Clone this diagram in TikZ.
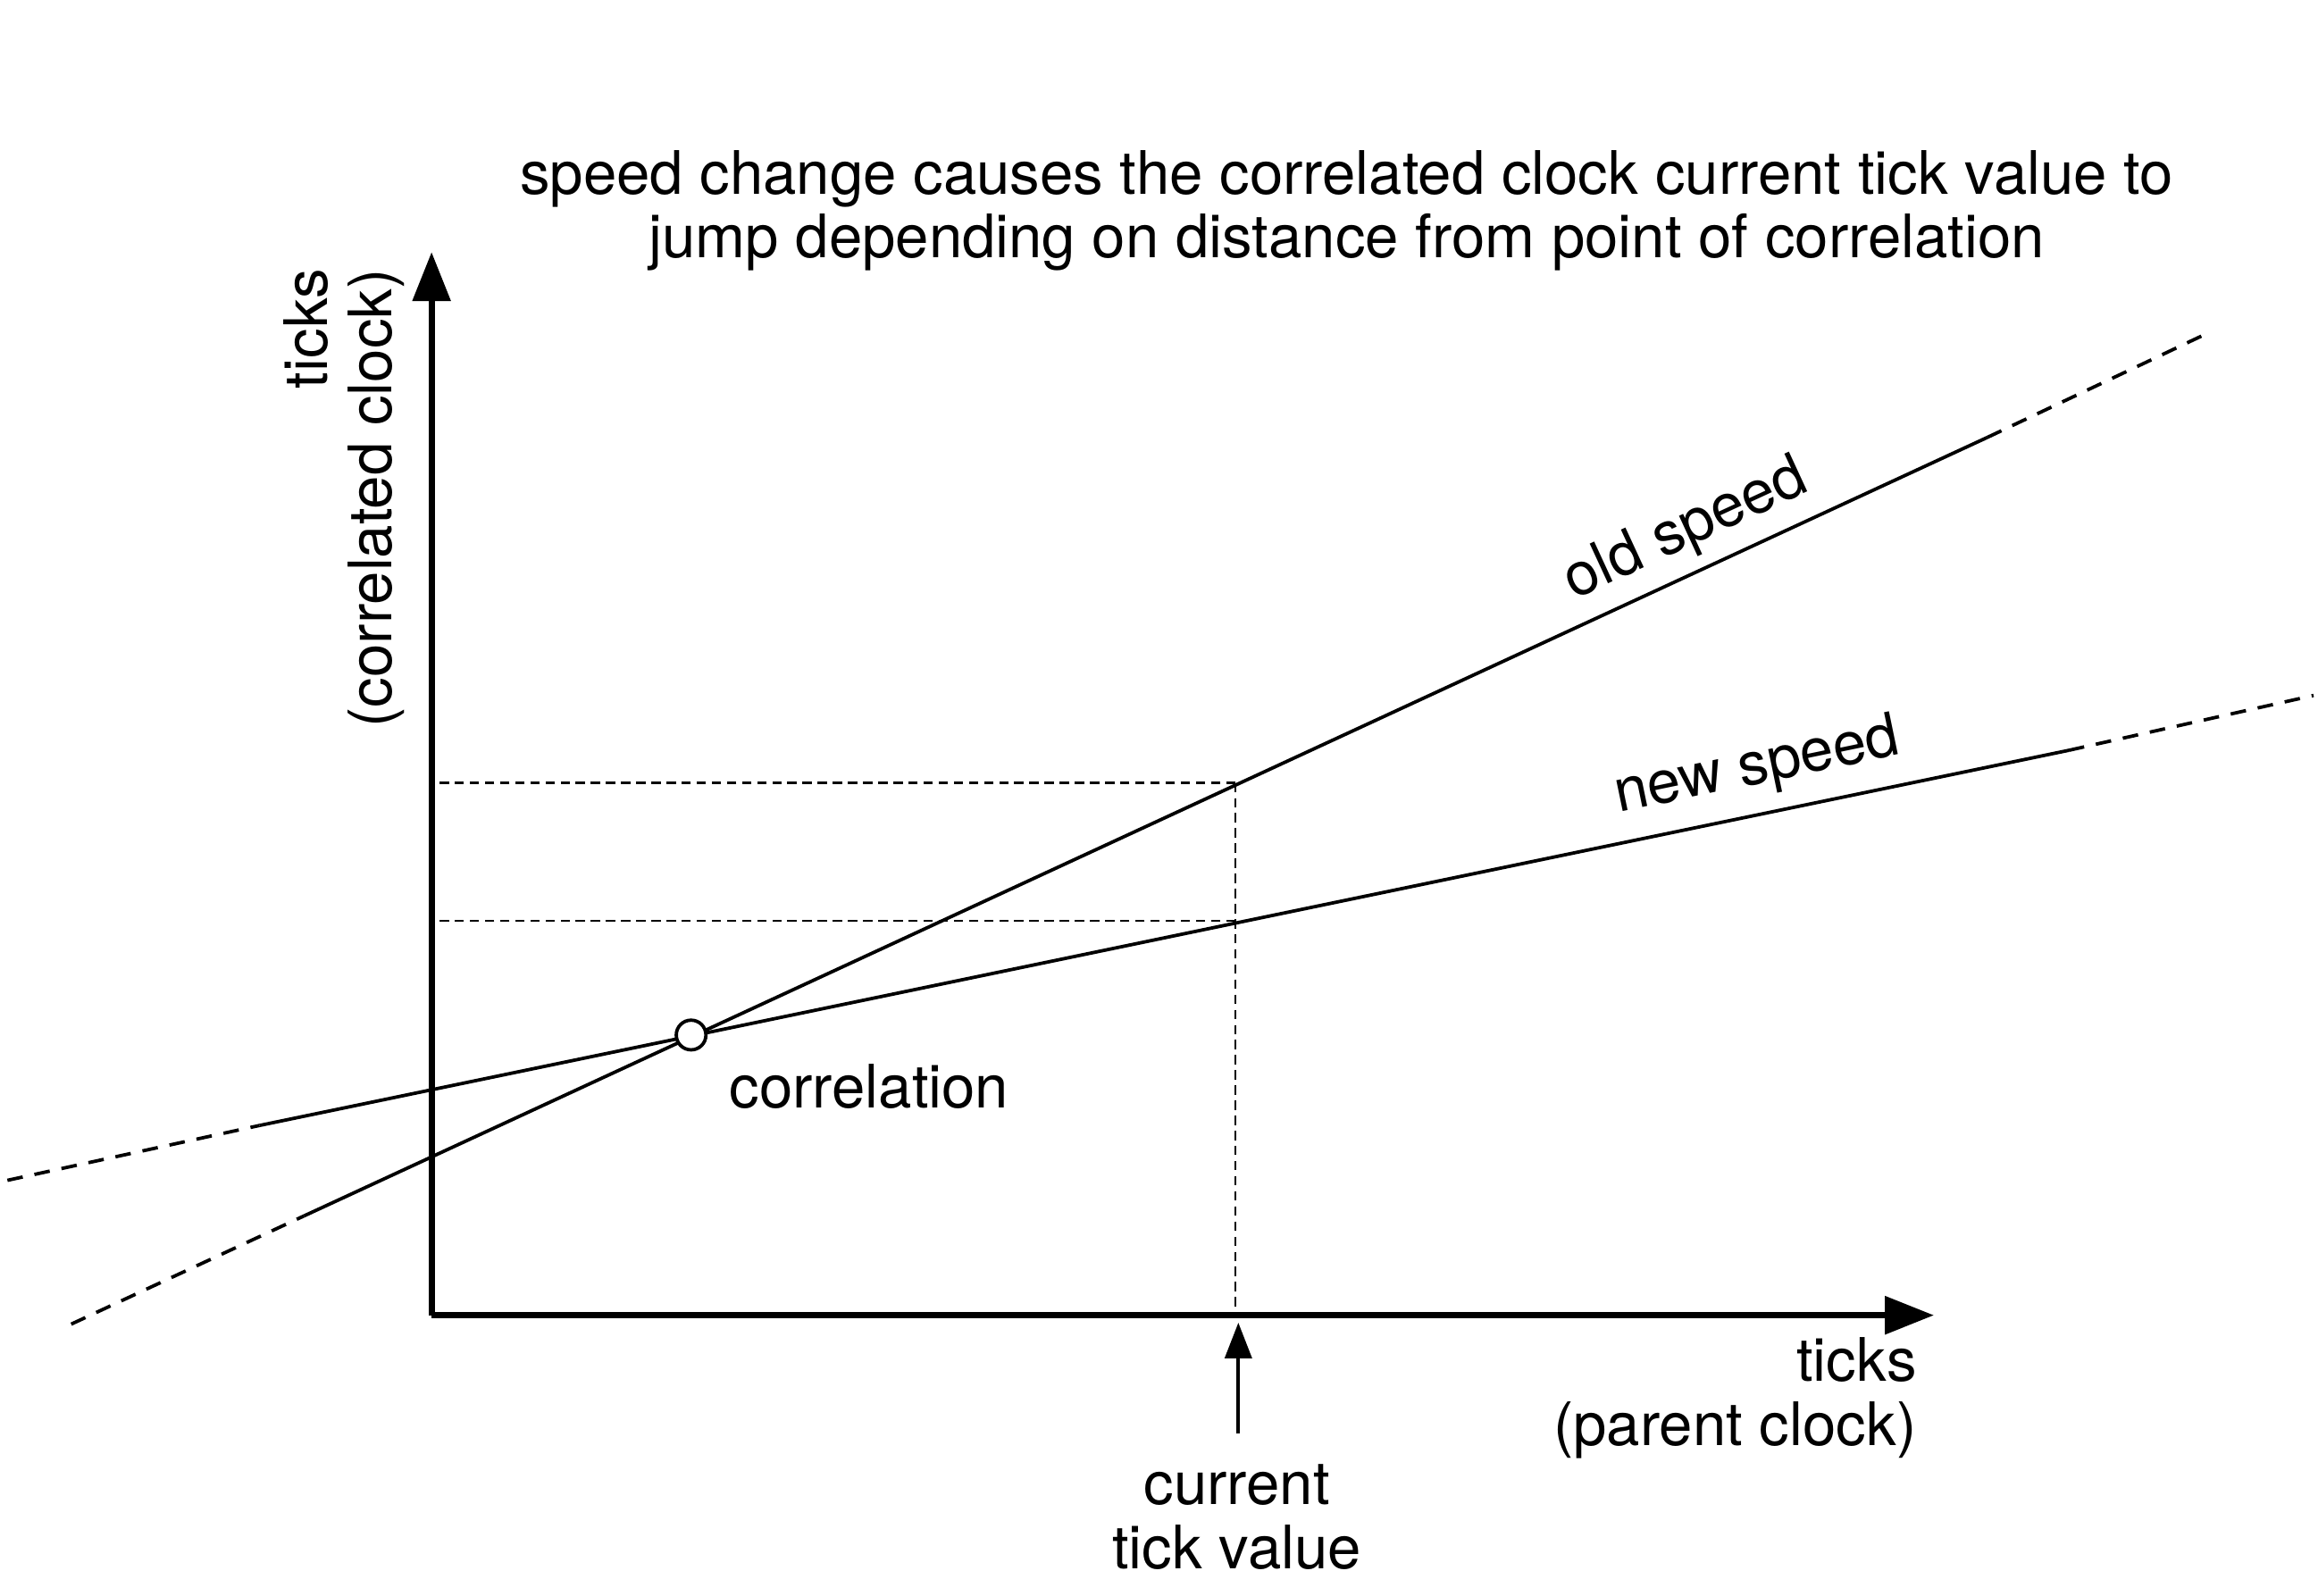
\documentclass[tikz,border=0pt]{standalone}
\usepackage{fontspec}
\setmainfont{TeX Gyre Heros}
\usepackage{tikz}
\usetikzlibrary{arrows.meta}

\begin{document}
\begin{tikzpicture}[x=0.01cm,y=-0.01cm]
						\tikzset{font=\fontsize{11.5}{12.3}\selectfont}
						
						\tikzset{axis/.style = {line width=1.2pt,-{Triangle[length=3.3mm,width=2.5mm]}}}
						
						\tikzset{speed/.style = {line width=0.65pt}}
						
						\tikzset{ext/.style = {line width=0.65pt,dash pattern=on 3pt off 2.3pt}}
						
						\tikzset{guide/.style = {line width=0.5pt,dash pattern=on 1.8pt off 1.1pt}}
						
						\tikzset{lbl/.style = {inner sep=0pt,align=center}}
						
						\useasboundingbox (0,0) rectangle (1563,1076);
						
						% points
						
						\coordinate (o) at (291,887);
						
						\coordinate (ytip) at (291,170);
						
						\coordinate (xtip) at (1304,887);
						
						\coordinate (old0) at (48,893);
						
						\coordinate (old1) at (205,820);
						
						\coordinate (old2) at (1340,295);
						
						\coordinate (old3) at (1490,224);
						
						\coordinate (new0) at (5,796);
						
						\coordinate (new1) at (175,759);
						
						\coordinate (new2) at (1395,506);
						
						\coordinate (new3) at (1560,469);
						
						\coordinate (oldnow) at (833,528);
						
						\coordinate (newnow) at (833,621);
						
						\coordinate (cur) at (835,967);
						
						% axes
						
						\draw[axis] (o) -- (ytip);
						
						\draw[axis] (o) -- (xtip);
						
						% guides
						
						\draw[guide] (oldnow) -- (oldnow -| o);
						
						\draw[guide] (newnow) -- (newnow -| o);
						
						\draw[guide] (oldnow) -- (oldnow |- o);
						
						% speeds
						
						\draw[ext] (old0) -- (old1);
						
						\draw[speed] (old1) -- (old2);
						
						\draw[ext] (old2) -- (old3);
						
						\draw[ext] (new0) -- (new1);
						
						\draw[speed] (new1) -- (new2);
						
						\draw[ext] (new2) -- (new3);
						
						\node[circle,draw,fill=white,line width=0.65pt,minimum size=0.2cm,inner sep=0pt] (c) at (466,698) {};
						
						\draw[speed,-{Triangle[length=2.4mm,width=1.8mm]}] (cur) -- (cur |- 892,892);
						
						% labels
						
						\node[lbl] (title) at (908,142) {speed change causes the correlated clock current tick value to\\jump depending on distance from point of correlation};
						
						\node[lbl,align=right,rotate=90] (ylbl) at (232,336) {ticks\\(correlated clock)};
						
						\node[lbl,align=right,anchor=east] (xlbl) at (1293,943) {ticks\\(parent clock)};
						
						\node[lbl] (curlbl) at (834,1023) {current\\tick value};
						
						\node[lbl] (corr) at (586,733) {correlation};
						
						\node[lbl,rotate=24.8] (oldlbl) at (1137,358) {old speed};
						
						\node[lbl,rotate=11.7] (newlbl) at (1185,518) {new speed};
				\end{tikzpicture}
\end{document}
